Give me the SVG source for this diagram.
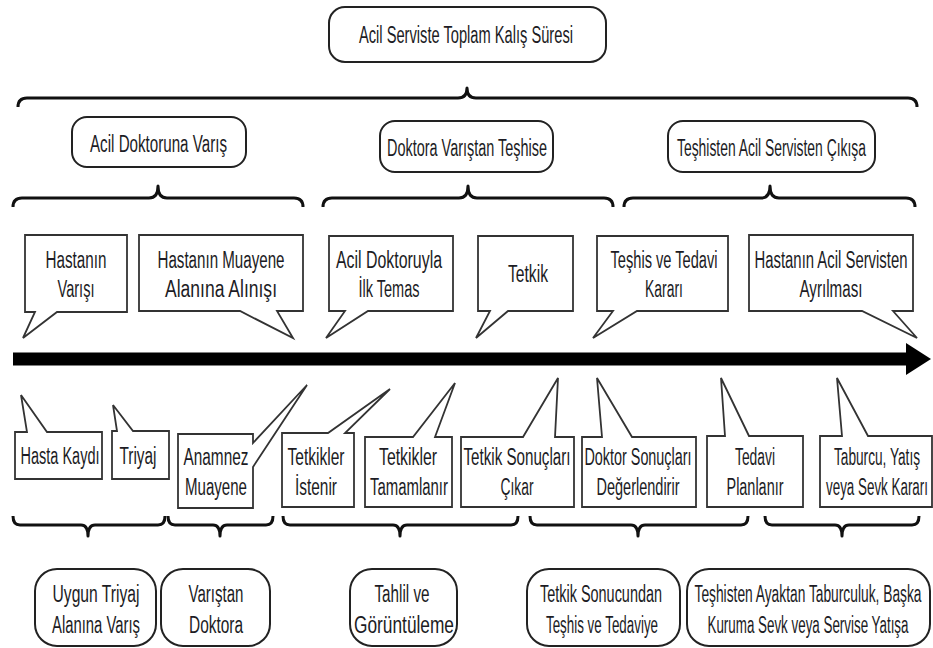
<svg xmlns="http://www.w3.org/2000/svg" width="933" height="648" viewBox="0 0 933 648">
<style>
.rb{fill:#fff;stroke:#222;stroke-width:2}
.co{fill:#fff;stroke:#333;stroke-width:1.8;stroke-linejoin:miter}
.br{fill:none;stroke:#111;stroke-width:3;stroke-linejoin:round}
text{font-family:"Liberation Sans Narrow","Liberation Sans",Arial,sans-serif;font-size:23px;fill:#1c1c24;text-anchor:middle}
</style>
<rect width="933" height="648" fill="#fff"/>
<g id="connectors">
<path class="br" d="M18,107 Q18,98 27,98 L458,98 Q467,98 467,88 Q467,98 476,98 L908,98 Q917,98 917,107"/>
<path class="br" d="M13,207 Q13,198 22,198 L149,198 Q158,198 158,186 Q158,198 167,198 L294,198 Q303,198 303,207"/>
<path class="br" d="M323,207 Q323,198 332,198 L459,198 Q468,198 468,186 Q468,198 477,198 L604,198 Q613,198 613,207"/>
<path class="br" d="M624,207 Q624,198 633,198 L761,198 Q770,198 770,186 Q770,198 779,198 L906,198 Q915,198 915,207"/>
<path class="br" d="M13,516 Q13,525 20,525 L81,525 Q88,525 88,536 Q88,525 95,525 L158,525 Q165,525 165,516"/>
<path class="br" d="M168,516 Q168,525 175,525 L213,525 Q220,525 220,536 Q220,525 227,525 L266,525 Q273,525 273,516"/>
<path class="br" d="M283,516 Q283,525 290,525 L393,525 Q400,525 400,536 Q400,525 407,525 L511,525 Q518,525 518,516"/>
<path class="br" d="M530,516 Q530,525 537,525 L631,525 Q638,525 638,536 Q638,525 645,525 L741,525 Q748,525 748,516"/>
<path class="br" d="M765,516 Q765,525 772,525 L835,525 Q842,525 842,536 Q842,525 849,525 L912,525 Q919,525 919,516"/>
<line x1="13" y1="359" x2="910" y2="359" stroke="#000" stroke-width="13"/>
<polygon points="906,343 931,359 906,375" fill="#000"/>
</g>
<g id="total">
<rect class="rb" x="329" y="7" width="277" height="55" rx="16"/>
<text x="466" y="43" textLength="214" lengthAdjust="spacingAndGlyphs">Acil Serviste Toplam Kalış Süresi</text>
</g>
<g id="phase1">
<rect class="rb" x="72" y="117" width="174" height="50" rx="15"/>
<text x="158.5" y="152" textLength="137" lengthAdjust="spacingAndGlyphs">Acil Doktoruna Varış</text>
</g>
<g id="phase2">
<rect class="rb" x="380" y="121" width="173" height="51" rx="15"/>
<text x="467" y="156" textLength="160" lengthAdjust="spacingAndGlyphs">Doktora Varıştan Teşhise</text>
</g>
<g id="phase3">
<rect class="rb" x="668" y="121" width="207" height="51" rx="15"/>
<text x="771.5" y="156" textLength="189" lengthAdjust="spacingAndGlyphs">Teşhisten Acil Servisten Çıkışa</text>
</g>
<g id="u1">
<path class="co" d="M25,235 H127 V312 H57 L23,338 L35,312 H25 Z"/>
<text x="76" y="268" textLength="61" lengthAdjust="spacingAndGlyphs">Hastanın</text>
<text x="76" y="297" textLength="37" lengthAdjust="spacingAndGlyphs">Varışı</text>
</g>
<g id="u2">
<path class="co" d="M139,235 H303 V311 H277 L293,338 L240,311 H139 Z"/>
<text x="221" y="268" textLength="127" lengthAdjust="spacingAndGlyphs">Hastanın Muayene</text>
<text x="221" y="297" textLength="112" lengthAdjust="spacingAndGlyphs">Alanına Alınışı</text>
</g>
<g id="u3">
<path class="co" d="M329,236 H453 V311 H368 L326,338 L345,311 H329 Z"/>
<text x="389" y="268" textLength="106" lengthAdjust="spacingAndGlyphs">Acil Doktoruyla</text>
<text x="389" y="297" textLength="61" lengthAdjust="spacingAndGlyphs">İlk Temas</text>
</g>
<g id="u4">
<path class="co" d="M478,236 H573 V311 H508 L476,338 L490,311 H478 Z"/>
<text x="528" y="282" textLength="40" lengthAdjust="spacingAndGlyphs">Tetkik</text>
</g>
<g id="u5">
<path class="co" d="M597,236 H728 V311 H637 L593,338 L613,311 H597 Z"/>
<text x="664" y="268" textLength="107" lengthAdjust="spacingAndGlyphs">Teşhis ve Tedavi</text>
<text x="664" y="297" textLength="38" lengthAdjust="spacingAndGlyphs">Kararı</text>
</g>
<g id="u6">
<path class="co" d="M749,235 H913 V311 H893 L917,338 L862,311 H749 Z"/>
<text x="831" y="268" textLength="153" lengthAdjust="spacingAndGlyphs">Hastanın Acil Servisten</text>
<text x="831" y="297" textLength="63" lengthAdjust="spacingAndGlyphs">Ayrılması</text>
</g>
<g id="l1">
<path class="co" d="M15,432 H27 L21,395 L47,432 H102 V479 H15 Z"/>
<text x="60" y="464" textLength="79" lengthAdjust="spacingAndGlyphs">Hasta Kaydı</text>
</g>
<g id="l2">
<path class="co" d="M112,431 H117 L113,405 L133,431 H169 V479 H112 Z"/>
<text x="138" y="464" textLength="37" lengthAdjust="spacingAndGlyphs">Triyaj</text>
</g>
<g id="l3">
<path class="co" d="M178,434 H253 V443 L307,385 L253,467 V508 H178 Z"/>
<text x="216" y="465" textLength="65" lengthAdjust="spacingAndGlyphs">Anamnez</text>
<text x="216" y="495" textLength="62" lengthAdjust="spacingAndGlyphs">Muayene</text>
</g>
<g id="l4">
<path class="co" d="M282,433 H328 L390,389 L345,433 H354 V507 H282 Z"/>
<text x="316" y="465" textLength="57" lengthAdjust="spacingAndGlyphs">Tetkikler</text>
<text x="316" y="495" textLength="42" lengthAdjust="spacingAndGlyphs">İstenir</text>
</g>
<g id="l5">
<path class="co" d="M365,437 H413 L455,383 L435,437 H452 V507 H365 Z"/>
<text x="408" y="465" textLength="58" lengthAdjust="spacingAndGlyphs">Tetkikler</text>
<text x="409" y="495" textLength="78" lengthAdjust="spacingAndGlyphs">Tamamlanır</text>
</g>
<g id="l6">
<path class="co" d="M461,437 H523 L558,378 L555,437 H574 V507 H461 Z"/>
<text x="517" y="465" textLength="107" lengthAdjust="spacingAndGlyphs">Tetkik Sonuçları</text>
<text x="517" y="495" textLength="33" lengthAdjust="spacingAndGlyphs">Çıkar</text>
</g>
<g id="l7">
<path class="co" d="M582,437 H602 L597,378 L632,437 H696 V507 H582 Z"/>
<text x="638" y="465" textLength="107" lengthAdjust="spacingAndGlyphs">Doktor Sonuçları</text>
<text x="638" y="495" textLength="83" lengthAdjust="spacingAndGlyphs">Değerlendirir</text>
</g>
<g id="l8">
<path class="co" d="M707,436 H725 L721,378 L749,436 H803 V507 H707 Z"/>
<text x="755" y="465" textLength="40" lengthAdjust="spacingAndGlyphs">Tedavi</text>
<text x="755" y="495" textLength="57" lengthAdjust="spacingAndGlyphs">Planlanır</text>
</g>
<g id="l9">
<path class="co" d="M820,436 H842 L837,378 L868,436 H932 V507 H820 Z"/>
<text x="877" y="465" textLength="86" lengthAdjust="spacingAndGlyphs">Taburcu, Yatış</text>
<text x="877" y="495" textLength="102" lengthAdjust="spacingAndGlyphs">veya Sevk Kararı</text>
</g>
<g id="b1">
<rect class="rb" x="35" y="569" width="121" height="77" rx="22"/>
<text x="96" y="602" textLength="87" lengthAdjust="spacingAndGlyphs">Uygun Triyaj</text>
<text x="96" y="633" textLength="88" lengthAdjust="spacingAndGlyphs">Alanına Varış</text>
</g>
<g id="b2">
<rect class="rb" x="161" y="569" width="109" height="77" rx="22"/>
<text x="216" y="602" textLength="55" lengthAdjust="spacingAndGlyphs">Varıştan</text>
<text x="216" y="633" textLength="54" lengthAdjust="spacingAndGlyphs">Doktora</text>
</g>
<g id="b3">
<rect class="rb" x="350" y="569" width="107" height="77" rx="22"/>
<text x="402" y="602" textLength="55" lengthAdjust="spacingAndGlyphs">Tahlil ve</text>
<text x="404" y="633" textLength="100" lengthAdjust="spacingAndGlyphs">Görüntüleme</text>
</g>
<g id="b4">
<rect class="rb" x="527" y="569" width="153" height="77" rx="22"/>
<text x="601" y="602" textLength="122" lengthAdjust="spacingAndGlyphs">Tetkik Sonucundan</text>
<text x="602" y="633" textLength="112" lengthAdjust="spacingAndGlyphs">Teşhis ve Tedaviye</text>
</g>
<g id="b5">
<rect class="rb" x="687" y="569" width="243" height="77" rx="22"/>
<text x="808" y="602" textLength="227" lengthAdjust="spacingAndGlyphs">Teşhisten Ayaktan Taburculuk, Başka</text>
<text x="808" y="633" textLength="201" lengthAdjust="spacingAndGlyphs">Kuruma Sevk veya Servise Yatışa</text>
</g>
</svg>
